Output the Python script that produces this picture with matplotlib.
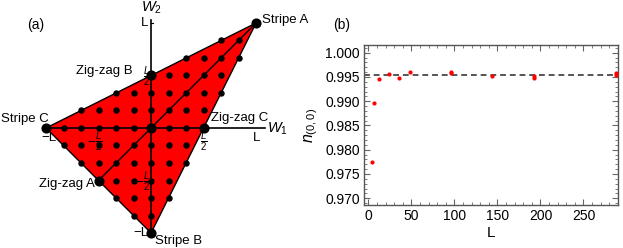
import numpy as np
import matplotlib.pyplot as plt

plt.rcParams['font.family'] = ['Liberation Sans', 'DejaVu Sans']
plt.rcParams['mathtext.fontset'] = 'custom'
plt.rcParams['mathtext.it'] = 'Liberation Sans:italic'
plt.rcParams['mathtext.rm'] = 'Liberation Sans'
plt.rcParams['mathtext.bf'] = 'Liberation Sans:bold'

# panel (a): phase triangle, lattice units of L/6
corner_names = ['Stripe A', 'Stripe B', 'Stripe C']
corner_w1 = [6, 0, -6]
corner_w2 = [6, -6, 0]
zigzag_names = ['Zig-zag A', 'Zig-zag B', 'Zig-zag C']
zigzag_w1 = [-3, 0, 3]
zigzag_w2 = [-3, 3, 0]

# lattice rows: W2 value and W1 range of the dots in that row
row_w2 = [6, 5, 4, 3, 2, 1, 0, -1, -2, -3, -4, -5, -6]
row_w1_min = [6, 4, 2, 0, -2, -4, -6, -5, -4, -3, -2, -1, 0]
row_w1_max = [6, 5, 5, 4, 4, 3, 3, 2, 2, 1, 1, 0, 0]

# panel (b): n_(0,0) vs L
sizes = [4, 6, 12, 24, 36, 48, 96, 96, 144, 192, 192, 288, 288]
n00 = [0.9774, 0.9896, 0.9946, 0.9956, 0.9948, 0.9960, 0.9960, 0.9958,
       0.9953, 0.9953, 0.9947, 0.9958, 0.9954]
n00_limit = 0.99547

fig = plt.figure(figsize=(6.23, 2.48), dpi=100)

# ---- panel (a)
ax = fig.add_axes([0, 0, 300 / 623, 1])
ax.set_xlim(-8.63, 8.51)
ax.set_ylim(-6.857, 7.314)
ax.axis('off')

ax.fill(corner_w1, corner_w2, color='#ff0000', ec='black', lw=1, zorder=1)
ax.plot([-6, 6.5], [0, 0], color='black', lw=1.2, zorder=2)
ax.plot([0, 0], [-6, 6.15], color='black', lw=1.2, zorder=2)
ax.plot([zigzag_w1[0], corner_w1[0]], [zigzag_w2[0], corner_w2[0]],
        color='black', lw=1, zorder=2)

xs, ys = [], []
for w2, lo, hi in zip(row_w2, row_w1_min, row_w1_max):
    for w1 in range(lo, hi + 1):
        xs.append(w1)
        ys.append(w2)
ax.plot(xs, ys, 'o', color='black', ms=3.6, zorder=3)
ax.plot(corner_w1 + zigzag_w1 + [0], corner_w2 + zigzag_w2 + [0], 'o',
        color='black', ms=6.3, zorder=4)

fs = 9.5
ax.text(6.34, 6.17, 'Stripe A', fontsize=fs, ha='left', va='center')
ax.text(0.23, -6.45, 'Stripe B', fontsize=fs, ha='left', va='center')
ax.text(-8.55, 0.5, 'Stripe C', fontsize=fs, ha='left', va='center')
ax.text(-3.2, -3.2, 'Zig-zag A', fontsize=fs, ha='right', va='center')
ax.text(-1.05, 3.26, 'Zig-zag B', fontsize=fs, ha='right', va='center')
ax.text(3.43, 0.57, 'Zig-zag C', fontsize=fs, ha='left', va='center')

# axis tick labels
fr = 10
ax.text(-0.15, 6.0, 'L', fontsize=fs, ha='right', va='center')
ax.text(-0.05, 2.95, r'$\frac{L}{2}$', fontsize=fr, ha='right', va='center')
ax.text(-0.05, -3.05, r'$-\frac{L}{2}$', fontsize=fr, ha='right', va='center')
ax.text(-0.15, -6.0, '\u2212L', fontsize=fs, ha='right', va='center')
ax.text(-5.85, -0.25, '\u2212L', fontsize=fs, ha='center', va='top')
ax.text(-3.2, -0.1, r'$-\frac{L}{2}$', fontsize=fr, ha='center', va='top')
ax.text(3.0, -0.1, r'$\frac{L}{2}$', fontsize=fr, ha='center', va='top')
ax.text(6.0, -0.25, 'L', fontsize=fs, ha='center', va='top')
ax.plot([0, 0.12], [6, 6], color='black', lw=0.8)
ax.text(6.63, -0.05, r'$W_1$', fontsize=10.5, ha='left', va='center')
ax.text(0, 6.85, r'$W_2$', fontsize=10.5, ha='center', va='center')

fig.text(27 / 623, 1 - 25 / 248, '(a)', fontsize=10, va='center')
fig.text(333 / 623, 1 - 25 / 248, '(b)', fontsize=10, va='center')

# ---- panel (b)
ax2 = fig.add_axes([364 / 623, 43 / 248, 254.3 / 623, 160 / 248])
ax2.plot(sizes, n00, 'o', color='#ff0000', ms=3, mec='none', zorder=3)
ax2.axhline(n00_limit, color='#555555', ls=(0, (3, 2)), lw=1.4, zorder=2)
ax2.set_xlim(-5.2, 290.5)
ax2.set_ylim(0.9686, 1.0016)
ax2.set_xticks(np.arange(0, 251, 50))
ax2.set_xticks(np.arange(0, 291, 10), minor=True)
ax2.set_yticks(np.arange(0.970, 1.0001, 0.005))
ax2.set_yticks(np.arange(0.969, 1.0011, 0.001), minor=True)
ax2.yaxis.set_major_formatter(plt.FormatStrFormatter('%.3f'))
ax2.tick_params(which='both', direction='in', top=True, right=True,
                color='#666666', labelsize=10, pad=3)
ax2.tick_params(which='major', length=4, width=0.8)
ax2.tick_params(which='minor', length=2, width=0.6)
for sp in ax2.spines.values():
    sp.set_color('#555555')
    sp.set_linewidth(1)
ax2.set_xlabel('L', fontsize=11, labelpad=2)
ax2.set_ylabel(r'$n_{(0,0)}$', fontsize=11.5, labelpad=4)

fig.savefig('out.png', dpi=100)
